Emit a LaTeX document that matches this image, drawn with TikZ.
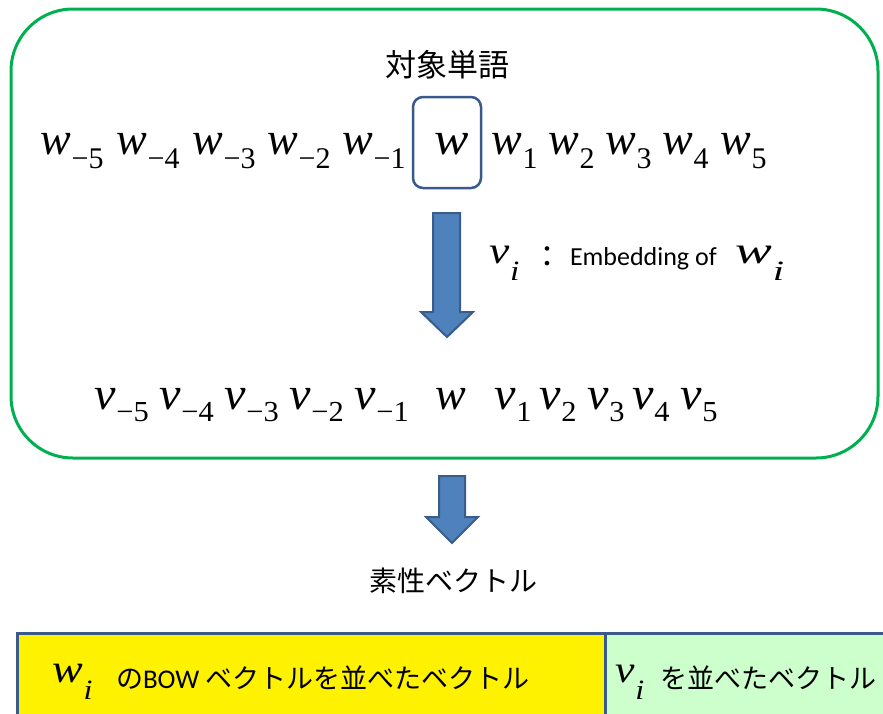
\documentclass[tikz,border=0pt]{standalone}
\usepackage{fontspec}
\usepackage{graphicx}
\setmainfont{Liberation Serif}
\newfontfamily\jp{Noto Sans CJK JP}
\newfontfamily\tms{Liberation Serif}
\newfontfamily\calib{Carlito}
\definecolor{frameg}{RGB}{0,176,80}
\definecolor{arrowf}{RGB}{79,129,189}
\definecolor{arrowd}{RGB}{56,93,138}
\definecolor{boxb}{RGB}{58,90,140}
\definecolor{lgreen}{RGB}{204,255,204}
% #1 hscale, #2 size, #3 letter, #4 sub size, #5 drop, #6 sub
\newcommand\term[6]{\scalebox{#1}[1]{\fontsize{#2pt}{#2pt}\selectfont\tms\itshape #3}\kern1pt\raisebox{-#5pt}{\scalebox{#1}[1]{\fontsize{#4pt}{#4pt}\selectfont\tms #6}}}
\begin{document}
\begin{tikzpicture}[x=1pt,y=-1pt,
  every node/.style={inner sep=0pt,outer sep=0pt},
  frame/.style={draw=frameg,line width=3pt,rounded corners=62pt},
  wframe/.style={draw=boxb,line width=2.5pt,rounded corners=10pt},
  blockarrow/.style={draw=arrowd,fill=arrowf,line width=2pt,line join=miter},
  cell/.style={draw=boxb,line width=3pt},
  jtext/.style={font=\jp\fontsize{#1pt}{#1pt}\selectfont},
  toprow/.style={anchor=base west},
]
\clip (0,0) rectangle (883,713);
\fill[white] (0,0) rectangle (883,713);

% outer green frame
\node[frame,minimum width=867pt,minimum height=449pt,anchor=north west] (frame) at (11,9) {};

% title
\node[jtext=31] (title) at (447,65) {対象単語};

% top row
\foreach \x/\s/\n in {40/−5/wm5,116/−4/wm4,192/−3/wm3,267/−2/wm2,342/−1/wm1,491/1/wp1,548/2/wp2,605/3/wp3,662/4/wp4,720/5/wp5}
  \node[toprow] (\n) at (\x,154) {\term{1}{46}{w}{30}{14}{\s}};
\node[toprow] (wc) at (434,154) {\scalebox{1.12}[1]{\fontsize{46pt}{46pt}\selectfont\tms\itshape w}};
\node[wframe,minimum width=68pt,minimum height=91pt,anchor=north west] (wbox) at (413,97) {};

% big arrow
\draw[blockarrow] (433,213) -- (460,213) -- (460,312) -- (473,312) -- (447,337) -- (421,312) -- (433,312) -- cycle;

% label
\node[toprow] (lv) at (489,263) {\term{1.2}{38}{v}{28}{17}{\itshape i}};
\node[jtext=30] (lcolon) at (547,257) {：};
\node[toprow,font=\calib\fontsize{26pt}{26pt}\selectfont] (lemb) at (570,265) {Embedding of};
\node[toprow] (lw) at (735,263) {\term{1.45}{38}{w}{28}{17}{\itshape i}};

% bottom row
\foreach \x/\s/\n in {94/−5/vm5,159/−4/vm4,224/−3/vm3,289/−2/vm2,354/−1/vm1,494/1/vp1,539/2/vp2,587/3/vp3,632/4/vp4,680/5/vp5}
  \node[toprow] (\n) at (\x,409) {\term{1.05}{46}{v}{29}{12}{\s}};
\node[toprow] (vw) at (435,409) {\fontsize{46pt}{46pt}\selectfont\tms\itshape w};

% small arrow
\draw[blockarrow] (439,476) -- (465,476) -- (465,517) -- (478,517) -- (452,543) -- (426,517) -- (439,517) -- cycle;

% feature vector title
\node[jtext=28] (feat) at (453,581) {素性ベクトル};

% bottom cells
\node[cell,fill=yellow,minimum width=588pt,minimum height=100pt,anchor=north west] (ycell) at (17,633) {};
\node[cell,fill=lgreen,minimum width=300pt,minimum height=100pt,anchor=north west] (gcell) at (605,633) {};

\node[toprow] (yw) at (52,682) {\term{1.15}{40}{w}{28}{17}{\itshape i}};
\node[jtext=27,anchor=west] (ytext) at (116,678) {の{\calib BOW} ベクトルを並べたベクトル};

\node[toprow] (gv) at (615,682) {\term{1.15}{38}{v}{28}{17}{\itshape i}};
\node[jtext=27,anchor=west] (gtext) at (660,678) {を並べたベクトル};
\end{tikzpicture}
\end{document}
